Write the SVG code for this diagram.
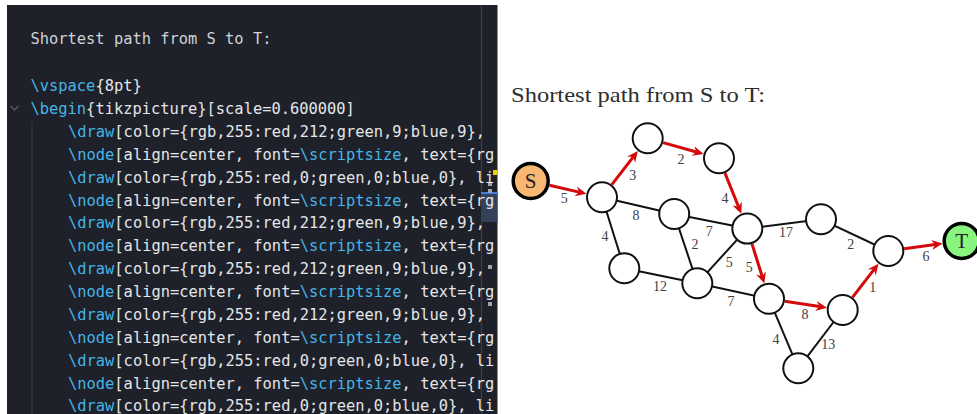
<svg xmlns="http://www.w3.org/2000/svg" width="977" height="414" viewBox="0 0 977 414">
  <style>
    .code { font-family: "DejaVu Sans Mono", "Liberation Mono", monospace; font-size: 15.4px; fill: #e4e6ea; }
    .plain { fill: #cfd2d6; }
    .cmd { fill: #45b4e6; }
    .title { font-family: "Liberation Serif", "DejaVu Serif", serif; font-size: 22px; fill: #2e2e2e; }
    .node { fill: #ffffff; stroke: #111111; stroke-width: 2; }
    .term { stroke: #000000; stroke-width: 3.5; }
    .nlabel { font-family: "Liberation Serif", "DejaVu Serif", serif; font-size: 21px; fill: #222222; text-anchor: middle; }
    .wlabel { font-family: "Liberation Serif", "DejaVu Serif", serif; font-size: 14px; fill: #404040; text-anchor: middle; }
    .edge { stroke: #111111; stroke-width: 2; fill: none; }
    .path { stroke: #d40909; stroke-width: 3; fill: none; marker-end: url(#stealth); }
  </style>
  <defs>
    <marker id="stealth" markerUnits="userSpaceOnUse" markerWidth="16" markerHeight="14" viewBox="-2 -7 14 14" refX="2.5" refY="0" orient="auto">
      <path d="M10,0 L-1,-5 L2.5,0 L-1,5 Z" fill="#d40909"/>
    </marker>
    <clipPath id="panel-clip">
      <rect x="7" y="5" width="490.5" height="409"/>
    </clipPath>
  </defs>

  <rect x="0" y="0" width="977" height="414" fill="#ffffff"/>

  <!-- editor panel -->
  <g id="editor">
    <rect x="7" y="5" width="490.5" height="409" fill="#1e2129"/>
    <line x1="481.5" y1="5" x2="481.5" y2="414" stroke="#3b3f48" stroke-width="1.2"/>
    <line x1="32" y1="121" x2="32" y2="414" stroke="#363a42" stroke-width="1"/>
    <polyline points="10.5,106 14.5,110 18.5,106" fill="none" stroke="#5d616a" stroke-width="1.2"/>
    <!-- selection and gutter markers -->
    <rect x="481" y="192" width="16.5" height="30" fill="#34415a"/>
    <rect x="481" y="192" width="16.5" height="2" fill="#3d7fe0"/>
    <rect x="493" y="170" width="4.5" height="5" fill="#e8d20a"/>
    <rect x="488" y="182" width="4" height="4" fill="#9ea3aa"/>
    <rect x="488" y="189" width="4" height="4" fill="#9ea3aa"/>
    <rect x="488" y="265" width="4" height="4" fill="#9ea3aa"/>
    <rect x="488" y="302" width="4" height="4" fill="#9ea3aa"/>
    <g clip-path="url(#panel-clip)" class="code">
      <text x="30.5" y="44" class="plain">Shortest path from S to T:</text>
      <text x="30.5" y="91"><tspan class="cmd">\vspace</tspan>{8pt}</text>
      <text x="30.5" y="113.9"><tspan class="cmd">\begin</tspan>{tikzpicture}[scale=0.600000]</text>
      <text x="68" y="136.8"><tspan class="cmd">\draw</tspan>[color={rgb,255:red,212;green,9;blue,9},</text>
      <text x="68" y="159.7"><tspan class="cmd">\node</tspan>[align=center, font=<tspan class="cmd">\scriptsize</tspan>, text={rg</text>
      <text x="68" y="182.6"><tspan class="cmd">\draw</tspan>[color={rgb,255:red,0;green,0;blue,0}, li</text>
      <text x="68" y="205.5"><tspan class="cmd">\node</tspan>[align=center, font=<tspan class="cmd">\scriptsize</tspan>, text={rg</text>
      <text x="68" y="228.4"><tspan class="cmd">\draw</tspan>[color={rgb,255:red,212;green,9;blue,9},</text>
      <text x="68" y="251.3"><tspan class="cmd">\node</tspan>[align=center, font=<tspan class="cmd">\scriptsize</tspan>, text={rg</text>
      <text x="68" y="274.2"><tspan class="cmd">\draw</tspan>[color={rgb,255:red,212;green,9;blue,9},</text>
      <text x="68" y="297.1"><tspan class="cmd">\node</tspan>[align=center, font=<tspan class="cmd">\scriptsize</tspan>, text={rg</text>
      <text x="68" y="320"><tspan class="cmd">\draw</tspan>[color={rgb,255:red,212;green,9;blue,9},</text>
      <text x="68" y="342.9"><tspan class="cmd">\node</tspan>[align=center, font=<tspan class="cmd">\scriptsize</tspan>, text={rg</text>
      <text x="68" y="365.8"><tspan class="cmd">\draw</tspan>[color={rgb,255:red,0;green,0;blue,0}, li</text>
      <text x="68" y="388.7"><tspan class="cmd">\node</tspan>[align=center, font=<tspan class="cmd">\scriptsize</tspan>, text={rg</text>
      <text x="68" y="411"><tspan class="cmd">\draw</tspan>[color={rgb,255:red,0;green,0;blue,0}, li</text>
    </g>
  </g>

  <!-- rendered output -->
  <text x="511" y="101.5" class="title" textLength="254" lengthAdjust="spacingAndGlyphs">Shortest path from S to T:</text>

  <g id="connectors">
    <!-- plain edges, centre to centre (nodes drawn on top) -->
    <line class="edge" x1="602" y1="197.3" x2="674.2" y2="214"/>
    <line class="edge" x1="602" y1="197.3" x2="624.3" y2="268.3"/>
    <line class="edge" x1="674.2" y1="214" x2="747.3" y2="228.6"/>
    <line class="edge" x1="674.2" y1="214" x2="697.3" y2="283.3"/>
    <line class="edge" x1="624.3" y1="268.3" x2="697.3" y2="283.3"/>
    <line class="edge" x1="697.3" y1="283.3" x2="747.3" y2="228.6"/>
    <line class="edge" x1="697.3" y1="283.3" x2="769" y2="298.8"/>
    <line class="edge" x1="747.3" y1="228.6" x2="821" y2="219.3"/>
    <line class="edge" x1="821" y1="219.3" x2="888.3" y2="251"/>
    <line class="edge" x1="769" y1="298.8" x2="798.3" y2="368.3"/>
    <line class="edge" x1="798.3" y1="368.3" x2="842.7" y2="310"/>
    <!-- shortest path -->
    <line class="path" x1="549.4" y1="185.3" x2="579.1" y2="192.1"/>
    <line class="path" x1="611.8" y1="184.7" x2="633.3" y2="156.9"/>
    <line class="path" x1="663.1" y1="142.6" x2="696.4" y2="152"/>
    <line class="path" x1="725" y1="173.1" x2="738.5" y2="206.8"/>
    <line class="path" x1="752" y1="243.9" x2="762.1" y2="276.3"/>
    <line class="path" x1="784.8" y1="301.2" x2="819.5" y2="306.5"/>
    <line class="path" x1="852.5" y1="297.3" x2="873.9" y2="269.6"/>
    <line class="path" x1="904.2" y1="248.8" x2="935.2" y2="244.6"/>
  </g>

  <g id="edge-weights">
    <text class="wlabel" x="564.3" y="203.3">5</text>
    <text class="wlabel" x="632.7" y="180">3</text>
    <text class="wlabel" x="681" y="164.3">2</text>
    <text class="wlabel" x="725" y="203.3">4</text>
    <text class="wlabel" x="636" y="220">8</text>
    <text class="wlabel" x="605" y="241">4</text>
    <text class="wlabel" x="709.2" y="236">7</text>
    <text class="wlabel" x="695" y="249.3">2</text>
    <text class="wlabel" x="786" y="237.3">17</text>
    <text class="wlabel" x="850.7" y="249">2</text>
    <text class="wlabel" x="926" y="261">6</text>
    <text class="wlabel" x="729.3" y="266.7">5</text>
    <text class="wlabel" x="749.3" y="272.3">5</text>
    <text class="wlabel" x="660" y="291">12</text>
    <text class="wlabel" x="731" y="305.7">7</text>
    <text class="wlabel" x="872.7" y="292.3">1</text>
    <text class="wlabel" x="805" y="319.3">8</text>
    <text class="wlabel" x="776" y="344">4</text>
    <text class="wlabel" x="828.3" y="349.3">13</text>
  </g>

  <g id="node-S"><circle class="term" cx="530.7" cy="181" r="17.5" fill="#f9b774"/><text class="nlabel" x="530.7" y="188.3">S</text></g>
  <g id="node-a"><circle class="node" cx="602" cy="197.3" r="15"/></g>
  <g id="node-b"><circle class="node" cx="647.7" cy="138.3" r="15"/></g>
  <g id="node-c"><circle class="node" cx="719" cy="158.3" r="15"/></g>
  <g id="node-d"><circle class="node" cx="674.2" cy="214" r="15"/></g>
  <g id="node-e"><circle class="node" cx="747.3" cy="228.6" r="15"/></g>
  <g id="node-f"><circle class="node" cx="821" cy="219.3" r="15"/></g>
  <g id="node-g"><circle class="node" cx="888.3" cy="251" r="15"/></g>
  <g id="node-l"><circle class="node" cx="624.3" cy="268.3" r="15"/></g>
  <g id="node-k"><circle class="node" cx="697.3" cy="283.3" r="15"/></g>
  <g id="node-h"><circle class="node" cx="769" cy="298.8" r="15"/></g>
  <g id="node-i"><circle class="node" cx="842.7" cy="310" r="15"/></g>
  <g id="node-j"><circle class="node" cx="798.3" cy="368.3" r="15"/></g>
  <g id="node-T"><circle class="term" cx="961.7" cy="241" r="17.5" fill="#88f57e"/><text class="nlabel" x="961.7" y="248.3">T</text></g>
</svg>
